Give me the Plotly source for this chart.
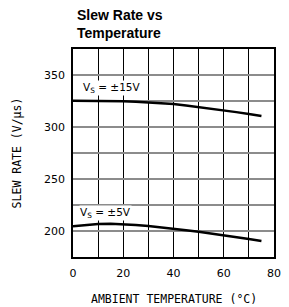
import plotly.graph_objects as go

temp = [0, 5, 10, 15, 20, 25, 30, 35, 40, 45, 50, 55, 60, 65, 70, 75]
sr_15v = [325.3, 325.3, 325.2, 325.0, 324.7, 324.2, 323.6, 322.9, 322.0, 320.6, 319.2, 317.6, 316.0, 314.3, 312.5, 310.6]
sr_5v = [204.5, 205.9, 206.8, 206.9, 206.6, 205.8, 204.8, 203.6, 202.2, 200.7, 199.2, 197.6, 196.0, 194.2, 192.3, 190.4]

x_labels = {"10": " ", "30": " ", "50": " ", "70": " "}
y_labels = {"175": " ", "225": " ", "275": " ", "325": " ", "375": " "}
title_text = "<b>Slew Rate vs<br>Temperature</b>"
x_title = "AMBIENT TEMPERATURE (°C)"
y_title = "SLEW RATE (V/μs)"

fig = go.Figure()
for ys in (sr_15v, sr_5v):
    fig.add_trace(go.Scatter(x=temp, y=ys, mode="lines",
                             line=dict(color="black", width=2.5),
                             showlegend=False, hoverinfo="skip"))

lab_font = dict(family="DejaVu Sans", size=10.5, color="black")
fig.add_annotation(x=3.4, y=337.5, text="V<sub>S</sub> = ±15V", showarrow=False,
                   xanchor="left", yanchor="middle", bgcolor="white",
                   font=lab_font, borderpad=0)
fig.add_annotation(x=2.2, y=217, text="V<sub>S</sub> = ±5V", showarrow=False,
                   xanchor="left", yanchor="middle", bgcolor="white",
                   font=lab_font, borderpad=0)

W, H = 281, 299
PW, PH = 208, 208
fig.add_annotation(xref="paper", yref="paper", x=2 / PW, y=1 + (41 - 16) / PH,
                   text=title_text, showarrow=False, xanchor="left", yanchor="middle",
                   align="left",
                   font=dict(family="Liberation Sans", size=14, color="black"))

axis_title_font = dict(family="DejaVu Sans Mono", size=11.5, color="black")
fig.add_annotation(xref="paper", yref="paper", x=0.5, y=-(290.5 - 249) / PH,
                   text=x_title, showarrow=False, xanchor="center", yanchor="middle",
                   font=axis_title_font)

fig.update_layout(
    width=W, height=H,
    margin=dict(l=65, r=8, t=41, b=50),
    paper_bgcolor="white", plot_bgcolor="white",
    xaxis=dict(range=[0, 80], tickmode="linear", tick0=0, dtick=10, labelalias=x_labels,
               showgrid=True, gridcolor="black", gridwidth=1,
               showline=True, linecolor="black", linewidth=1.5, mirror=True,
               zeroline=False, ticks="", ticklabelstandoff=5,
               tickfont=dict(family="DejaVu Sans", size=11, color="black")),
    yaxis=dict(range=[175, 375], tickmode="linear", tick0=175, dtick=25, labelalias=y_labels,
               showgrid=True, gridcolor="#8c8c8c", gridwidth=1.5,
               showline=True, linecolor="black", linewidth=1.5, mirror=True,
               zeroline=False, ticks="", ticklabelstandoff=4,
               tickfont=dict(family="DejaVu Sans", size=11, color="black"),
               title=dict(text=y_title, standoff=20, font=axis_title_font)),
)

fig.write_html("out.html")
